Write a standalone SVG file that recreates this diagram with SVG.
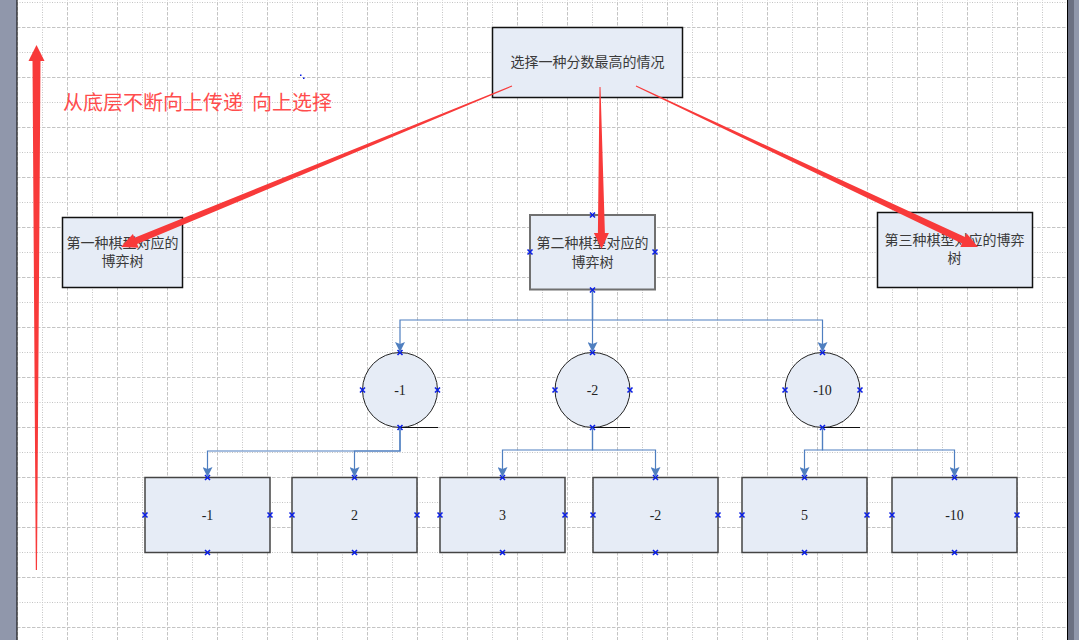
<svg xmlns="http://www.w3.org/2000/svg" xmlns:xlink="http://www.w3.org/1999/xlink" width="1079" height="640" viewBox="0 0 1079 640">
<style>
.box{fill:#e6ecf6;stroke:#111;stroke-width:1.5}
.mid{fill:#e6ecf6;stroke:#707070;stroke-width:2}
.leaf{fill:#e6ecf6;stroke:#444;stroke-width:1.5}
.circ{fill:#e6ecf6;stroke:#222;stroke-width:1}
.tail{stroke:#111;stroke-width:1.2;fill:none}
.cn{font-family:"Noto Sans CJK SC","Noto Sans",sans-serif;font-size:14px;fill:#3a3a3a;text-anchor:middle}
.num{font-family:"Liberation Serif",serif;font-size:14px;fill:#222;text-anchor:middle}
.red{font-family:"Noto Sans CJK SC","Noto Sans",sans-serif;font-size:20px;fill:#ff4d4d}
.conn{fill:none;stroke:#4f7fc0;stroke-width:1.2;marker-end:url(#ah)}
.ra{fill:#f83a3a}
</style>
<defs>
<pattern id="grid" patternUnits="userSpaceOnUse" x="42" y="2" width="50" height="50">
<line x1="0.5" y1="0" x2="0.5" y2="50" stroke="#c4c4c4" stroke-width="1" stroke-dasharray="1,1.5"/>
<line x1="25.5" y1="0" x2="25.5" y2="50" stroke="#c4c4c4" stroke-width="1" stroke-dasharray="3.5,1.5"/>
<line x1="0" y1="0.5" x2="50" y2="0.5" stroke="#c4c4c4" stroke-width="1" stroke-dasharray="1,1.5"/>
<line x1="0" y1="25.5" x2="50" y2="25.5" stroke="#c4c4c4" stroke-width="1" stroke-dasharray="3.5,1.5"/>
</pattern>
<marker id="ah" markerUnits="userSpaceOnUse" markerWidth="10" markerHeight="10" refX="10" refY="5" orient="auto">
<path d="M0,0 L10,5 L0,10 L2,5 Z" fill="#4f7fc0"/>
</marker>
<path id="cp" d="M-2.5,-2.5 L2.5,2.5 M-2.5,2.5 L2.5,-2.5" stroke="#0a1ee6" stroke-width="1.6" fill="none"/>
</defs>

<g id="page">
<rect x="0" y="0" width="1079" height="640" fill="#9097ab"/>
<rect x="17" y="0" width="1051" height="640" fill="#ffffff"/>
<rect x="17" y="0" width="1051" height="640" fill="url(#grid)"/>
<rect x="16.5" y="0" width="1" height="640" fill="#000"/>
<rect x="1067" y="0" width="1.2" height="640" fill="#000"/>
<rect x="1068.2" y="0" width="5.8" height="640" fill="#6b7082"/>
<rect x="300" y="74.5" width="1.5" height="1.5" fill="#0a1ee6"/>
<rect x="303" y="77.5" width="1.5" height="1.5" fill="#0a1ee6"/>
</g>

<g id="note">
<text class="red" x="63" y="110">从底层不断向上传递</text>
<text class="red" x="252" y="110">向上选择</text>
</g>

<g id="root">
<rect class="box" x="492.5" y="27.5" width="190" height="70"/>
<text class="cn" x="587.5" y="67">选择一种分数最高的情况</text>
</g>

<g id="tree1">
<rect class="box" x="62.5" y="217.5" width="120" height="70"/>
<text class="cn" x="122.5" y="248">第一种棋型对应的</text>
<text class="cn" x="122.5" y="266">博弈树</text>
</g>

<g id="tree2">
<rect class="mid" x="530" y="215" width="125" height="74.5"/>
<text class="cn" x="592.5" y="248">第二种棋型对应的</text>
<text class="cn" x="592.5" y="266.5">博弈树</text>
<use xlink:href="#cp" x="592.5" y="215"/>
<use xlink:href="#cp" x="530" y="252"/>
<use xlink:href="#cp" x="655" y="252"/>
<use xlink:href="#cp" x="592.5" y="290"/>
</g>

<g id="tree3">
<rect class="box" x="877.5" y="212.5" width="155" height="75"/>
<text class="cn" x="954.5" y="244.5">第三种棋型对应的博弈</text>
<text class="cn" x="954.5" y="263">树</text>
</g>

<g id="c1">
<circle class="circ" cx="400" cy="390" r="37.5"/>
<line class="tail" x1="400" y1="427.5" x2="438" y2="427.5"/>
<text class="num" x="400" y="395">-1</text>
<use xlink:href="#cp" x="400" y="352.5"/>
<use xlink:href="#cp" x="362.5" y="390"/>
<use xlink:href="#cp" x="437.5" y="390"/>
<use xlink:href="#cp" x="400" y="427.5"/>
</g>
<g id="c2">
<circle class="circ" cx="592.5" cy="390" r="37.5"/>
<line class="tail" x1="592.5" y1="427.5" x2="630" y2="427.5"/>
<text class="num" x="592.5" y="395">-2</text>
<use xlink:href="#cp" x="592.5" y="352.5"/>
<use xlink:href="#cp" x="555" y="390"/>
<use xlink:href="#cp" x="630" y="390"/>
<use xlink:href="#cp" x="592.5" y="427.5"/>
</g>
<g id="c3">
<circle class="circ" cx="822.5" cy="390" r="37.5"/>
<line class="tail" x1="822.5" y1="427.5" x2="860" y2="427.5"/>
<text class="num" x="822.5" y="395">-10</text>
<use xlink:href="#cp" x="822.5" y="352.5"/>
<use xlink:href="#cp" x="785" y="390"/>
<use xlink:href="#cp" x="860" y="390"/>
<use xlink:href="#cp" x="822.5" y="427.5"/>
</g>

<g id="leaf1">
<rect class="leaf" x="145" y="477.5" width="125" height="75"/>
<text class="num" x="207.5" y="520">-1</text>
<use xlink:href="#cp" x="207.5" y="477.5"/><use xlink:href="#cp" x="145" y="515"/><use xlink:href="#cp" x="270" y="515"/><use xlink:href="#cp" x="207.5" y="552.5"/>
</g>
<g id="leaf2">
<rect class="leaf" x="292" y="477.5" width="125" height="75"/>
<text class="num" x="354.5" y="520">2</text>
<use xlink:href="#cp" x="354.5" y="477.5"/><use xlink:href="#cp" x="292" y="515"/><use xlink:href="#cp" x="417" y="515"/><use xlink:href="#cp" x="354.5" y="552.5"/>
</g>
<g id="leaf3">
<rect class="leaf" x="440" y="477.5" width="125" height="75"/>
<text class="num" x="502.5" y="520">3</text>
<use xlink:href="#cp" x="502.5" y="477.5"/><use xlink:href="#cp" x="440" y="515"/><use xlink:href="#cp" x="565" y="515"/><use xlink:href="#cp" x="502.5" y="552.5"/>
</g>
<g id="leaf4">
<rect class="leaf" x="593" y="477.5" width="125" height="75"/>
<text class="num" x="655.5" y="520">-2</text>
<use xlink:href="#cp" x="655.5" y="477.5"/><use xlink:href="#cp" x="593" y="515"/><use xlink:href="#cp" x="718" y="515"/><use xlink:href="#cp" x="655.5" y="552.5"/>
</g>
<g id="leaf5">
<rect class="leaf" x="742" y="477.5" width="125" height="75"/>
<text class="num" x="804.5" y="520">5</text>
<use xlink:href="#cp" x="804.5" y="477.5"/><use xlink:href="#cp" x="742" y="515"/><use xlink:href="#cp" x="867" y="515"/><use xlink:href="#cp" x="804.5" y="552.5"/>
</g>
<g id="leaf6">
<rect class="leaf" x="892" y="477.5" width="125" height="75"/>
<text class="num" x="954.5" y="520">-10</text>
<use xlink:href="#cp" x="954.5" y="477.5"/><use xlink:href="#cp" x="892" y="515"/><use xlink:href="#cp" x="1017" y="515"/><use xlink:href="#cp" x="954.5" y="552.5"/>
</g>

<g id="connectors">
<path class="conn" d="M592.5,291 V320 H400 V352"/>
<path class="conn" d="M592.5,291 V352"/>
<path class="conn" d="M592.5,291 V320 H822.5 V352"/>
<path class="conn" d="M400,428 V451 H207.5 V477"/>
<path class="conn" d="M400,428 V451 H354.5 V477"/>
<path class="conn" d="M592.5,428 V450 H502.5 V477"/>
<path class="conn" d="M592.5,428 V450 H655.5 V477"/>
<path class="conn" d="M822.5,428 V450 H804.5 V477"/>
<path class="conn" d="M822.5,428 V450 H954.5 V477"/>
<polygon class="ra" points="37,570 40.5,61 44.5,61 36.5,45 28.5,61 32.5,61 35.8,570"/>
<polygon class="ra" points="511.8,85.5 134.5,237.7 132.9,234 121,247 138.7,247.8 137.1,244.1 512.2,86.5"/>
<polygon class="ra" points="599.5,87 597.9,233 593.9,233 601.5,249 608.9,233 604.9,233 600.5,87"/>
<polygon class="ra" points="635.8,86.5 962,243.4 960.3,247 978,247 966.7,233.4 965,237 636.2,85.5"/>
</g>
</svg>
